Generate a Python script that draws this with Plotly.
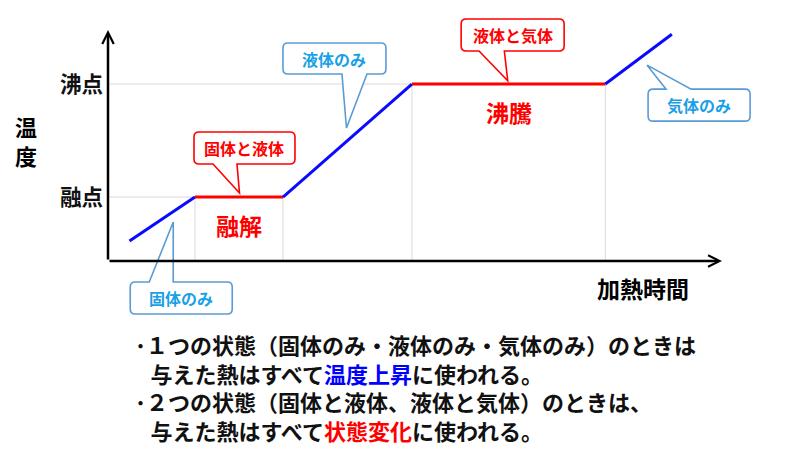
import plotly.graph_objects as go

# heating curve
time_min = [2.1, 8.5, 17.1, 29.7, 48.6, 55.1]
temp_c = [-39, 0, 0, 100, 100, 144]
segment_labels = ["固体のみ", "固体と液体", "液体のみ", "液体と気体", "気体のみ"]
change_labels = ["融解", "沸騰"]
point_labels = ["融点", "沸点"]
x_title = "加熱時間"
y_title = "温度"
note_lines = [
    "･１つの状態（固体のみ・液体のみ・気体のみ）のときは",
    "\u2002\u2009与えた熱はすべて<span style='color:#0000ff'>温度上昇</span>に使われる。",
    "･２つの状態（固体と液体、液体と気体）のときは、",
    "\u2002\u2009与えた熱はすべて<span style='color:#ff0000'>状態変化</span>に使われる。",
]

FONT = "Noto Sans CJK JP"
BLUE = "#0a0aff"
RED = "#ff0000"
GRID = "#d9d9d9"
BUBBLE_BLUE = "#5b9bd5"
TEXT_BLUE = "#1aa0e6"

W, H = 800, 450
PAGE_PAD = 8          # the html body margin shifts the figure by this much
PX0, PX1 = 108, 722   # plot area on screen
PY0, PY1 = 30, 261
PW, PH = PX1 - PX0, PY1 - PY0
X_RANGE = [0, 60]
Y_RANGE = [-56.6, 147.8]


def paper_x(px):
    return (px - PX0) / PW


def paper_y(py):
    return (PY1 - py) / PH


def data_to_paper(x, y):
    return ((x - X_RANGE[0]) / (X_RANGE[1] - X_RANGE[0]),
            (y - Y_RANGE[0]) / (Y_RANGE[1] - Y_RANGE[0]))


# speech bubbles, pixel offsets from the middle of each curve segment (y down)
bubbles = [
    dict(box=(-32, 70, 63, 95), tip=(11, 3), base=(-13, 11), side="top"),
    dict(box=(-45, 56, -65, -33), tip=(0.5, -4), base=(-26, -2), side="bottom"),
    dict(box=(-64.5, 38.5, -97.5, -66.5), tip=(-1, -12.5), base=(-5.5, 19.5), side="bottom"),
    dict(box=(-47.5, 55.5, -65, -33), tip=(-0.9, -3.3), base=(-29.6, -4.3), side="bottom"),
    dict(box=(9.5, 111.5, 30, 62), tip=(8.5, 6), base=(27.5, 52.5), side="top"),
]


def bubble_path(box, tip, base, side, r=5):
    x0, x1, y0, y1 = box
    p = [f"M{x0 + r},{-y0}"]
    if side == "top":
        p += [f"L{base[0]},{-y0}", f"L{tip[0]},{-tip[1]}", f"L{base[1]},{-y0}"]
    p += [f"L{x1 - r},{-y0}", f"Q{x1},{-y0} {x1},{-(y0 + r)}",
          f"L{x1},{-(y1 - r)}", f"Q{x1},{-y1} {x1 - r},{-y1}"]
    if side == "bottom":
        p += [f"L{base[1]},{-y1}", f"L{tip[0]},{-tip[1]}", f"L{base[0]},{-y1}"]
    p += [f"L{x0 + r},{-y1}", f"Q{x0},{-y1} {x0},{-(y1 - r)}",
          f"L{x0},{-(y0 + r)}", f"Q{x0},{-y0} {x0 + r},{-y0}", "Z"]
    return " ".join(p)


fig = go.Figure()

# light guide lines down to the time axis and across to the temperature axis
gx, gy = [], []
for i in range(1, len(time_min) - 1):
    gx += [time_min[i], time_min[i], None]
    gy += [Y_RANGE[0], temp_c[i], None]
    if temp_c[i] == temp_c[i + 1]:
        gx += [X_RANGE[0], time_min[i], None]
        gy += [temp_c[i], temp_c[i], None]
fig.add_trace(go.Scatter(x=gx, y=gy, mode="lines", line=dict(color=GRID, width=1),
                         hoverinfo="skip"))

# the curve: blue while heating one phase, red on the plateaus
for i in range(len(time_min) - 1):
    flat = temp_c[i] == temp_c[i + 1]
    fig.add_trace(go.Scatter(x=time_min[i:i + 2], y=temp_c[i:i + 2], mode="lines",
                             line=dict(color=RED if flat else BLUE, width=3)))

shapes = []
annotations = []
k = 0
for i, label in enumerate(segment_labels):
    mx = (time_min[i] + time_min[i + 1]) / 2
    my = (temp_c[i] + temp_c[i + 1]) / 2
    ax_p, ay_p = data_to_paper(mx, my)
    flat = temp_c[i] == temp_c[i + 1]
    b = bubbles[i]
    edge = RED if flat else BUBBLE_BLUE
    # paper refs so the bubbles are not clipped to the plot area
    shapes.append(dict(type="path", xref="paper", yref="paper", xsizemode="pixel",
                       ysizemode="pixel", xanchor=ax_p, yanchor=ay_p, path=bubble_path(**b),
                       line=dict(color=edge, width=1.6), fillcolor="white", layer="above"))
    x0, x1, y0, y1 = b["box"]
    annotations.append(dict(x=mx, y=my, xref="x", yref="y", showarrow=False,
                            xanchor="center", yanchor="middle",
                            xshift=(x0 + x1) / 2, yshift=-(y0 + y1) / 2,
                            text=f"<b>{label}</b>",
                            font=dict(family=FONT, size=16, color=RED if flat else TEXT_BLUE)))
    if flat:
        annotations.append(dict(x=mx, y=my, xref="x", yref="y", showarrow=False, yshift=-28,
                                xanchor="center", yanchor="middle",
                                text=f"<b>{change_labels[k]}</b>",
                                font=dict(family=FONT, size=23, color=RED)))
        k += 1

# axes drawn as arrows
for tail, head in [((X_RANGE[0], Y_RANGE[0]), (X_RANGE[1], Y_RANGE[0])),
                   ((X_RANGE[0], Y_RANGE[0]), (X_RANGE[0], Y_RANGE[1]))]:
    annotations.append(dict(x=head[0], y=head[1], ax=tail[0], ay=tail[1],
                            xref="x", yref="y", axref="x", ayref="y", text="",
                            showarrow=True, arrowhead=5, arrowsize=0.9, arrowwidth=2.5,
                            arrowcolor="black", standoff=0))

annotations.append(dict(x=paper_x(643), y=paper_y(288), xref="paper", yref="paper",
                        xanchor="center", yanchor="middle", showarrow=False,
                        text=f"<b>{x_title}</b>",
                        font=dict(family=FONT, size=23, color="black")))
annotations.append(dict(x=paper_x(26), y=paper_y(140.5), xref="paper", yref="paper",
                        xanchor="center", yanchor="middle", showarrow=False,
                        text="<b>" + "<br>".join(y_title) + "</b>",
                        font=dict(family=FONT, size=22, color="black")))

# the two notes under the chart
annotations.append(dict(x=paper_x(133), y=paper_y(387), xref="paper", yref="paper",
                        xanchor="left", yanchor="middle", align="left", showarrow=False,
                        text="<b>" + "<br>".join(note_lines) + "</b>",
                        font=dict(family=FONT, size=22, color="#111111")))

plateaus = sorted(set(t for t, u in zip(temp_c, temp_c[1:]) if t == u))

fig.update_layout(
    width=W, height=H,
    margin=dict(l=PX0 - PAGE_PAD, r=W - PX1 + PAGE_PAD, t=PY0 - PAGE_PAD,
                b=H - PY1 + PAGE_PAD),
    paper_bgcolor="white", plot_bgcolor="white",
    showlegend=False,
    shapes=shapes,
    annotations=annotations,
    xaxis=dict(range=X_RANGE, showgrid=False, zeroline=False, showticklabels=False,
               showline=False, fixedrange=True),
    yaxis=dict(range=Y_RANGE, showgrid=False, zeroline=False, showline=False,
               tickvals=plateaus, ticktext=[f"<b>{t}</b>" for t in point_labels],
               tickfont=dict(family=FONT, size=21.5, color="#111111"), ticks="",
               ticklabelstandoff=4, fixedrange=True),
)

fig.write_html("out.html")
